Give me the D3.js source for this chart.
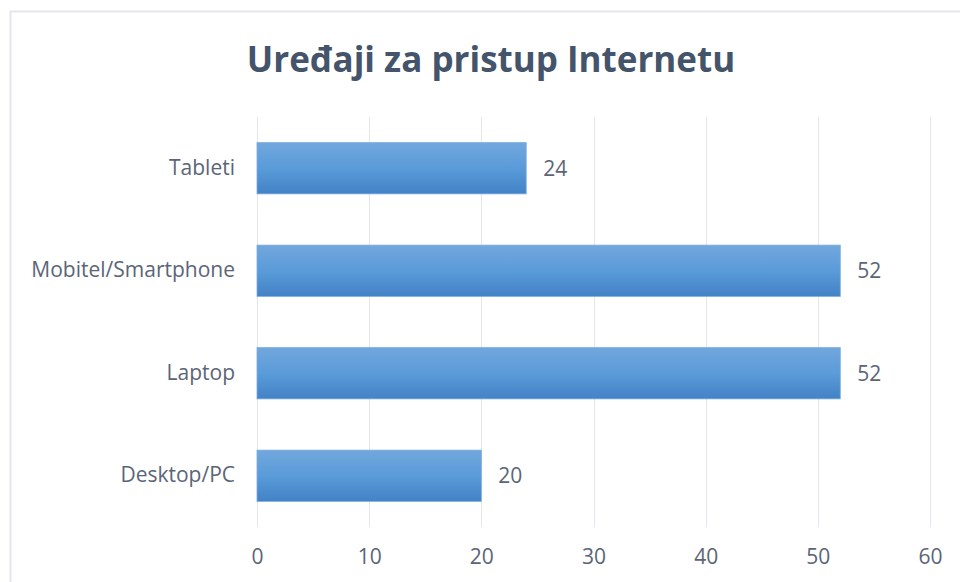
<!DOCTYPE html>
<html>
<head>
<meta charset="utf-8">
<script src="https://cdn.jsdelivr.net/npm/d3@7"></script>
<style>
  body { margin: 0; background: #fff; }
  svg text { font-family: "Open Sans", "Liberation Sans", sans-serif; }
</style>
</head>
<body>
<svg id="chart" width="960" height="582"></svg>
<script>
var categories = ['Tableti', 'Mobitel/Smartphone', 'Laptop', 'Desktop/PC'];
var values = [24, 52, 52, 20];
var xTicks = [0, 10, 20, 30, 40, 50, 60];
var title = 'Uređaji za pristup Internetu';

var svg = d3.select('#chart');

// outer chart frame
svg.append('rect')
    .attr('x', 10.5).attr('y', 11.5)
    .attr('width', 980).attr('height', 600)
    .attr('fill', '#fff')
    .attr('stroke', '#e3e6ec')
    .attr('stroke-width', 2);

var plot = { left: 257, right: 930, top: 117, bottom: 527 };

var x = d3.scaleLinear().domain([0, 60]).range([plot.left, plot.right]);
var y = d3.scaleBand().domain(categories).range([plot.top, plot.bottom])
    .paddingInner(0.5).paddingOuter(0.25);

// gradient for bars
var grad = svg.append('defs').append('linearGradient')
    .attr('id', 'barGrad')
    .attr('x1', 0).attr('y1', 0).attr('x2', 0).attr('y2', 1);
grad.append('stop').attr('offset', '0%').attr('stop-color', '#72a7dd');
grad.append('stop').attr('offset', '50%').attr('stop-color', '#5a9bd9');
grad.append('stop').attr('offset', '100%').attr('stop-color', '#4282c6');

// gridlines
svg.append('g')
    .selectAll('line')
    .data(xTicks)
    .join('line')
    .attr('x1', function(d) { return Math.round(x(d)) + 0.5; })
    .attr('x2', function(d) { return Math.round(x(d)) + 0.5; })
    .attr('y1', plot.top)
    .attr('y2', plot.bottom)
    .attr('stroke', '#e4e6ec')
    .attr('stroke-width', 1);

// x axis labels
var xAxis = d3.axisBottom(x).tickValues(xTicks).tickSize(0).tickPadding(0);
svg.append('g')
    .attr('transform', 'translate(0,' + 564 + ')')
    .call(xAxis)
    .call(function(g) { g.select('.domain').remove(); })
    .selectAll('text')
    .attr('dy', 0)
    .attr('fill', '#5b6577')
    .style('font-size', '21px');

// y axis labels
var yAxis = d3.axisLeft(y).tickSize(0).tickPadding(0);
svg.append('g')
    .attr('transform', 'translate(' + 235 + ',0)')
    .call(yAxis)
    .call(function(g) { g.select('.domain').remove(); })
    .selectAll('text')
    .attr('fill', '#5b6577')
    .style('font-size', '21px');

// bars
svg.append('g')
    .selectAll('rect')
    .data(values)
    .join('rect')
    .attr('x', x(0))
    .attr('y', function(d, i) { return y(categories[i]); })
    .attr('width', function(d) { return x(d) - x(0); })
    .attr('height', y.bandwidth())
    .attr('fill', 'url(#barGrad)')
    .attr('stroke', '#79acdf')
    .attr('stroke-width', 0.8);

// value labels
svg.append('g')
    .selectAll('text')
    .data(values)
    .join('text')
    .attr('x', function(d) { return x(d) + 17; })
    .attr('y', function(d, i) { return y(categories[i]) + y.bandwidth() / 2; })
    .attr('dy', '0.35em')
    .attr('fill', '#5b6577')
    .style('font-size', '21px')
    .text(function(d) { return d; });

// title
svg.append('text')
    .attr('x', 491)
    .attr('y', 72)
    .attr('text-anchor', 'middle')
    .attr('fill', '#44546a')
    .style('font-size', '35px')
    .style('font-weight', 'bold')
    .text(title);
</script>
</body>
</html>
